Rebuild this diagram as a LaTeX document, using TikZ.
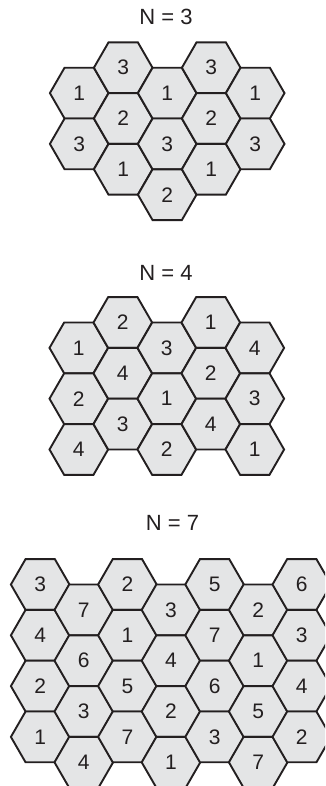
\documentclass[tikz,border=0pt]{standalone}
\usepackage{fontspec}
\setmainfont{Liberation Sans}
\usetikzlibrary{shapes.geometric}
\definecolor{hexfill}{RGB}{228,229,230}
\definecolor{ink}{RGB}{35,31,32}
\tikzset{
  hexcell/.style={regular polygon, regular polygon sides=6, minimum size=58.6pt,
    inner sep=0pt, outer sep=0pt, draw=ink, fill=hexfill, line width=1.9pt,
    text=ink, font=\fontsize{21}{21}\selectfont},
  paneltitle/.style={text=ink, font=\fontsize{22}{22}\selectfont, inner sep=0pt}
}
\begin{document}
\begin{tikzpicture}[x=1pt,y=-1pt]
\clip (0,0) rectangle (325,786);
\fill[white] (0,0) rectangle (325,786);
% N = 3
\node[paneltitle] (t3) at (166,17.2) {N = 3};
\foreach \c/\h/\l in {1/1/1,1/3/3, 2/0/3,2/2/2,2/4/1, 3/1/1,3/3/3,3/5/2, 4/0/3,4/2/2,4/4/1, 5/1/1,5/3/3}
  \node[hexcell] (a-\c-\h) at ({79.2+(\c-1)*44},{67.7+\h*25.4}) {\l};
% N = 4
\node[paneltitle] (t4) at (166,272.5) {N = 4};
\foreach \c/\h/\l in {1/1/1,1/3/2,1/5/4, 2/0/2,2/2/4,2/4/3, 3/1/3,3/3/1,3/5/2, 4/0/1,4/2/2,4/4/4, 5/1/4,5/3/3,5/5/1}
  \node[hexcell] (b-\c-\h) at ({78.8+(\c-1)*44},{322.5+\h*25.4}) {\l};
% N = 7
\node[paneltitle] (t7) at (172.5,523) {N = 7};
\foreach \c/\h/\l in {1/0/3,1/2/4,1/4/2,1/6/1, 2/1/7,2/3/6,2/5/3,2/7/4, 3/0/2,3/2/1,3/4/5,3/6/7, 4/1/3,4/3/4,4/5/2,4/7/1, 5/0/5,5/2/7,5/4/6,5/6/3, 6/1/2,6/3/1,6/5/5,6/7/7, 7/0/6,7/2/3,7/4/4,7/6/2}
  \node[hexcell] (c-\c-\h) at ({40.2+(\c-1)*43.6},{584.5+\h*25.4}) {\l};
\end{tikzpicture}
\end{document}
